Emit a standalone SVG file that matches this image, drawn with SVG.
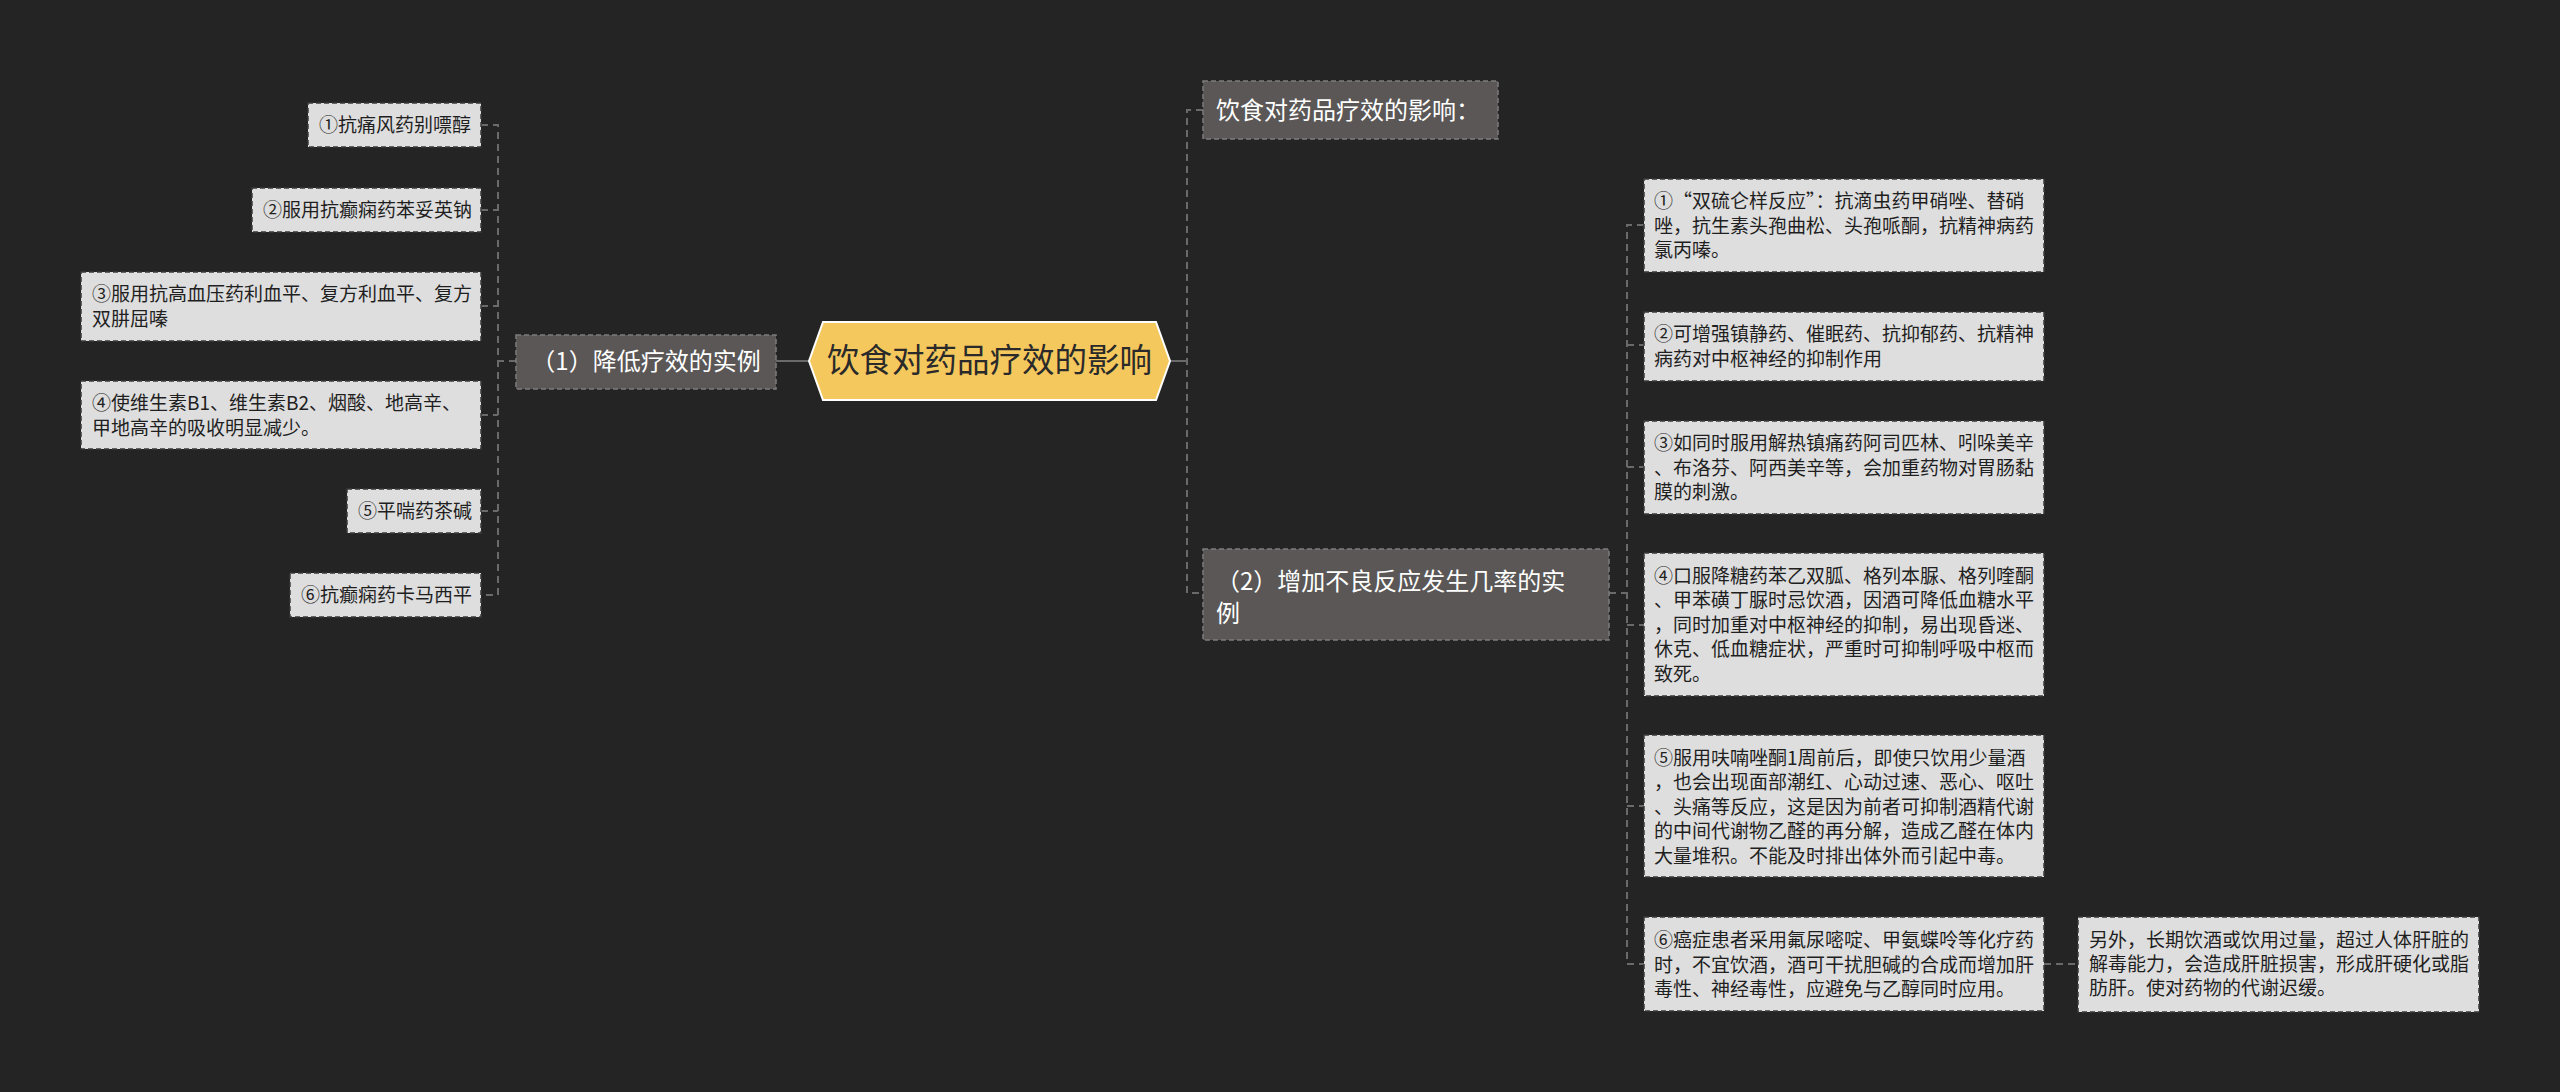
<svg xmlns="http://www.w3.org/2000/svg" width="2560" height="1092" viewBox="0 0 2560 1092">
<style>
text{font-family:"Noto Sans CJK SC","Noto Sans",sans-serif;}
.leaf rect{fill:#dedede;stroke:#3a3a3a;stroke-width:1.5;stroke-dasharray:5 3;}
.leaf text{fill:#1f1f1f;font-size:19px;}
.lvl1 rect{fill:#5a5756;stroke:#7c7c7c;stroke-width:1.5;stroke-dasharray:5 3;}
.lvl1 text{fill:#ffffff;font-size:24px;}
.conn path{fill:none;stroke:#6a6a6a;stroke-width:2;}
.dash{stroke-dasharray:7 5;}
</style>
<rect width="2560" height="1092" fill="#242424"/>
<g id="connectors" class="conn">
<path d="M776,361 H809"/>
<path class="dash" d="M516,361 H498"/>
<path class="dash" d="M481,125 H498 V595 H481"/>
<path class="dash" d="M481,210 H498"/>
<path class="dash" d="M481,306 H498"/>
<path class="dash" d="M481,415 H498"/>
<path class="dash" d="M481,511 H498"/>
<path d="M1170,361 H1187"/>
<path class="dash" d="M1203,110 H1187 V593 H1203"/>
<path class="dash" d="M1609,593 H1627"/>
<path class="dash" d="M1644,225 H1627 V964 H1644"/>
<path class="dash" d="M1627,345 H1644"/>
<path class="dash" d="M1627,467 H1644"/>
<path class="dash" d="M1627,625 H1644"/>
<path class="dash" d="M1627,806 H1644"/>
<path class="dash" d="M2044,964 H2078"/>
</g>
<g id="root">
<polygon points="809,361 823,322 1156,322 1170,361 1156,400 823,400" fill="#f5c85e" stroke="#ffffff" stroke-width="2"/>
<text x="989.5" y="372" font-size="32.5" fill="#2a2a2a" text-anchor="middle">饮食对药品疗效的影响</text>
</g>
<g id="n1" class="lvl1">
<rect x="516" y="335" width="260" height="54"/>
<text x="646" y="370" text-anchor="middle">（1）降低疗效的实例</text>
</g>
<g id="l1" class="leaf"><rect x="308" y="103" width="173" height="44"/><text x="319" y="132">①抗痛风药别嘌醇</text></g>
<g id="l2" class="leaf"><rect x="252" y="188" width="229" height="44"/><text x="263" y="217">②服用抗癫痫药苯妥英钠</text></g>
<g id="l3" class="leaf"><rect x="81" y="272" width="400" height="69"/><text x="92" y="301">③服用抗高血压药利血平、复方利血平、复方</text><text x="92" y="326">双肼屈嗪</text></g>
<g id="l4" class="leaf"><rect x="81" y="381" width="400" height="68"/><text x="92" y="410">④使维生素B1、维生素B2、烟酸、地高辛、</text><text x="92" y="435">甲地高辛的吸收明显减少。</text></g>
<g id="l5" class="leaf"><rect x="347" y="489" width="134" height="44"/><text x="358" y="518">⑤平喘药茶碱</text></g>
<g id="l6" class="leaf"><rect x="290" y="573" width="191" height="44"/><text x="301" y="602">⑥抗癫痫药卡马西平</text></g>
<g id="n2" class="lvl1">
<rect x="1203" y="81" width="295" height="58"/>
<text x="1216" y="119">饮食对药品疗效的影响：</text>
</g>
<g id="n3" class="lvl1">
<rect x="1203" y="549" width="406" height="91"/>
<text x="1216" y="590">（2）增加不良反应发生几率的实</text>
<text x="1216" y="622">例</text>
</g>
<g id="r1" class="leaf"><rect x="1644" y="179" width="400" height="93"/>
<text x="1654" y="208">①“双硫仑样反应”：抗滴虫药甲硝唑、替硝</text><text x="1654" y="233">唑，抗生素头孢曲松、头孢哌酮，抗精神病药</text><text x="1654" y="257">氯丙嗪。</text></g>
<g id="r2" class="leaf"><rect x="1644" y="312" width="400" height="69"/>
<text x="1654" y="341">②可增强镇静药、催眠药、抗抑郁药、抗精神</text><text x="1654" y="366">病药对中枢神经的抑制作用</text></g>
<g id="r3" class="leaf"><rect x="1644" y="421" width="400" height="93"/>
<text x="1654" y="450">③如同时服用解热镇痛药阿司匹林、吲哚美辛</text><text x="1654" y="475">、布洛芬、阿西美辛等，会加重药物对胃肠黏</text><text x="1654" y="499">膜的刺激。</text></g>
<g id="r4" class="leaf"><rect x="1644" y="553" width="400" height="143"/>
<text x="1654" y="583">④口服降糖药苯乙双胍、格列本脲、格列喹酮</text><text x="1654" y="607">、甲苯磺丁脲时忌饮酒，因酒可降低血糖水平</text><text x="1654" y="632">，同时加重对中枢神经的抑制，易出现昏迷、</text><text x="1654" y="656">休克、低血糖症状，严重时可抑制呼吸中枢而</text><text x="1654" y="681">致死。</text></g>
<g id="r5" class="leaf"><rect x="1644" y="735" width="400" height="142"/>
<text x="1654" y="765">⑤服用呋喃唑酮1周前后，即使只饮用少量酒</text><text x="1654" y="789">，也会出现面部潮红、心动过速、恶心、呕吐</text><text x="1654" y="814">、头痛等反应，这是因为前者可抑制酒精代谢</text><text x="1654" y="838">的中间代谢物乙醛的再分解，造成乙醛在体内</text><text x="1654" y="863">大量堆积。不能及时排出体外而引起中毒。</text></g>
<g id="r6" class="leaf"><rect x="1644" y="917" width="400" height="94"/>
<text x="1654" y="947">⑥癌症患者采用氟尿嘧啶、甲氨蝶呤等化疗药</text><text x="1654" y="972">时，不宜饮酒，酒可干扰胆碱的合成而增加肝</text><text x="1654" y="996">毒性、神经毒性，应避免与乙醇同时应用。</text></g>
<g id="r7" class="leaf"><rect x="2078" y="917" width="401" height="95"/>
<text x="2089" y="947">另外，长期饮酒或饮用过量，超过人体肝脏的</text><text x="2089" y="971">解毒能力，会造成肝脏损害，形成肝硬化或脂</text><text x="2089" y="995">肪肝。使对药物的代谢迟缓。</text></g>
</svg>
